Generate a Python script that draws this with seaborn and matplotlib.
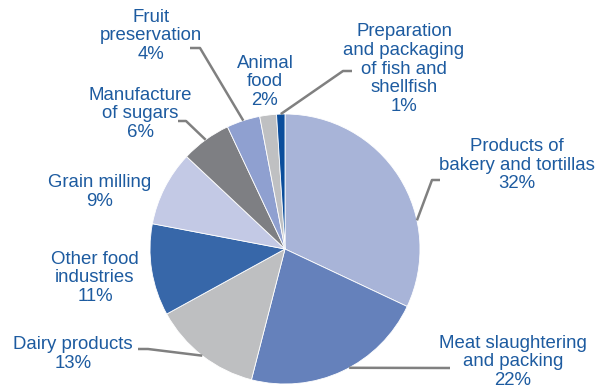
import numpy as np
import matplotlib
matplotlib.use("Agg")
import matplotlib.pyplot as plt
import seaborn as sns

# Industry shares (%), clockwise from 12 o'clock
categories = [
    "Products of\nbakery and tortillas",
    "Meat slaughtering\nand packing",
    "Dairy products",
    "Other food\nindustries",
    "Grain milling",
    "Manufacture\nof sugars",
    "Fruit\npreservation",
    "Animal\nfood",
    "Preparation\nand packaging\nof fish and\nshellfish",
]
shares = [32, 22, 13, 11, 9, 6, 4, 2, 1]
colors = ["#A8B4D8", "#6581BB", "#BEBFC1", "#3767A9", "#C3C9E5",
          "#7E7F83", "#8FA0D0", "#BFC0C2", "#0B4D9B"]

sns.set_theme(style="white")
plt.rcParams["font.family"] = ["Liberation Sans", "DejaVu Sans"]

W, H = 607, 388
fig = plt.figure(figsize=(W / 100, H / 100), dpi=100)
ax = fig.add_axes([0, 0, 1, 1])

cx, cy, r = 285, H - 249, 135
wedges, _ = ax.pie(shares, colors=colors, startangle=90, counterclock=False,
                   center=(cx, cy), radius=r, frame=True,
                   wedgeprops=dict(edgecolor="white", linewidth=0.6))
ax.set_xlim(0, W)
ax.set_ylim(0, H)
ax.set_aspect("equal")
ax.axis("off")

text_color = "#1D5BA0"
line_color = "#808080"

# label layout: (x, y in pixels from top), anchor fraction within wedge, elbow path
layout = [
    ((517, 165), 0.675, [(440, 180), (432, 180)]),
    ((513, 362), 0.46, [(450, 368)]),
    ((73, 354), 0.5, [(138, 349), (148, 349)]),
    ((95, 278), None, None),
    ((100, 192), None, None),
    ((140, 114), 0.5, [(178, 121), (186, 121)]),
    ((151, 36), 0.5, [(190, 48), (200, 48)]),
    ((265, 82), None, None),
    ((404, 69), 0.5, [(352, 71), (343, 71)]),
]

for i, (cat, val, w) in enumerate(zip(categories, shares, wedges)):
    (tx, ty), frac, path = layout[i]
    ax.text(tx, H - ty, f"{cat}\n{val}%", ha="center", va="center",
            fontsize=13.4, color=text_color, linespacing=1.12)
    if frac is not None:
        # wedge angles: theta1 < theta2 in matplotlib; clockwise start is theta2
        ang = np.deg2rad(w.theta2 - frac * (w.theta2 - w.theta1))
        ax_pt = (cx + r * np.cos(ang), cy + r * np.sin(ang))
        xs = [p[0] for p in path] + [ax_pt[0]]
        ys = [H - p[1] for p in path] + [ax_pt[1]]
        ax.plot(xs, ys, color=line_color, linewidth=1.8, solid_capstyle="butt")

fig.savefig("out.png", dpi=100)
